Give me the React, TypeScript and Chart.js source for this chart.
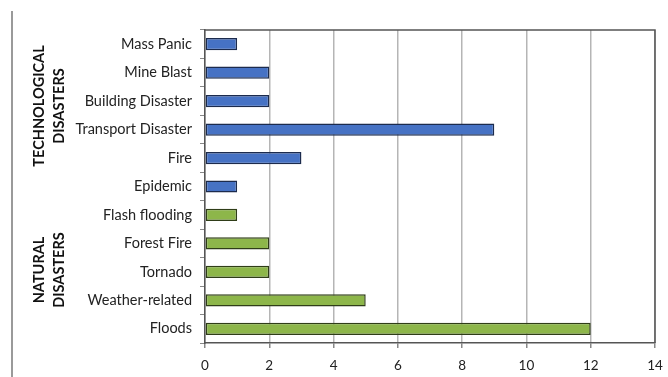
import React, { useEffect, useRef } from "react";
import { Chart, registerables } from "chart.js";

Chart.register(...registerables);

const categories = [
  "Mass Panic",
  "Mine Blast",
  "Building Disaster",
  "Transport Disaster",
  "Fire",
  "Epidemic",
  "Flash flooding",
  "Forest Fire",
  "Tornado",
  "Weather-related",
  "Floods",
];
const values = [1, 2, 2, 9, 3, 1, 1, 2, 2, 5, 12];
const groups = ["tech", "tech", "tech", "tech", "tech", "tech", "nat", "nat", "nat", "nat", "nat"];
const xTicks = [0, 2, 4, 6, 8, 10, 12, 14];
const groupLabels = [
  { lines: ["TECHNOLOGICAL", "DISASTERS"], y: 106 },
  { lines: ["NATURAL", "DISASTERS"], y: 270 },
];

const FONT = "Lato, 'Open Sans', sans-serif";

const decorPlugin = {
  id: "decor",
  afterDraw(chart: any) {
    const { ctx, chartArea } = chart;
    ctx.save();
    ctx.strokeStyle = "#9a9a9a";
    ctx.lineWidth = 2;
    ctx.beginPath();
    ctx.moveTo(12, 11);
    ctx.lineTo(12, 377);
    ctx.stroke();
    ctx.strokeStyle = "#555";
    ctx.lineWidth = 1.5;
    ctx.beginPath();
    ctx.moveTo(chartArea.left, chartArea.top);
    ctx.lineTo(chartArea.right, chartArea.top);
    ctx.lineTo(chartArea.right, chartArea.bottom);
    ctx.stroke();
    ctx.fillStyle = "#111";
    ctx.font = "bold 14.5px " + FONT;
    ctx.textAlign = "center";
    ctx.textBaseline = "middle";
    groupLabels.forEach((g) => {
      g.lines.forEach((line, i) => {
        ctx.save();
        ctx.translate(39 + i * 20, g.y);
        ctx.rotate(-Math.PI / 2);
        ctx.fillText(line, 0, 0);
        ctx.restore();
      });
    });
    ctx.restore();
  },
};

export default function App() {
  const ref = useRef<HTMLCanvasElement>(null);
  useEffect(() => {
    document.body.style.margin = "0";
    const chart = new Chart(ref.current!, {
      type: "bar",
      data: {
        labels: categories,
        datasets: [
          {
            data: values,
            backgroundColor: groups.map((g) => (g === "tech" ? "#4672c4" : "#8db64a")),
            borderColor: groups.map((g) => (g === "tech" ? "#1c2b4d" : "#2f3d18")),
            borderWidth: 1.5,
            borderSkipped: false,
            categoryPercentage: 1,
            barPercentage: 0.43,
          },
        ],
      },
      options: {
        indexAxis: "y",
        animation: false,
        responsive: false,
        layout: { padding: { top: 30, right: 13, left: 0, bottom: 0 } },
        plugins: { legend: { display: false }, tooltip: { enabled: false } },
        scales: {
          x: {
            min: 0,
            max: 14,
            afterBuildTicks: (s: any) => {
              s.ticks = xTicks.map((v) => ({ value: v }));
            },
            afterFit: (s: any) => {
              s.height = 34;
              s.paddingRight = 0;
              s.paddingLeft = 0;
            },
            grid: {
              color: "#b5b5b5",
              lineWidth: 1.5,
              tickLength: 5,
              tickColor: "#888",
            },
            border: { color: "#555", width: 1.5 },
            ticks: {
              padding: 10,
              color: "#222",
              font: { family: FONT, size: 13.5 },
            },
          },
          y: {
            afterFit: (s: any) => {
              s.width = 205;
            },
            grid: {
              drawOnChartArea: false,
              tickLength: 5,
              tickColor: "#888",
              offset: true,
            },
            border: { color: "#555", width: 1.5 },
            ticks: {
              padding: 8,
              color: "#222",
              font: { family: FONT, size: 14.5 },
            },
          },
        },
      },
      plugins: [decorPlugin],
    });
    return () => chart.destroy();
  }, []);
  return (
    <div style={{ width: 668, height: 377, position: "relative" }}>
      <canvas ref={ref} width={668} height={377} style={{ display: "block" }} />
    </div>
  );
}
